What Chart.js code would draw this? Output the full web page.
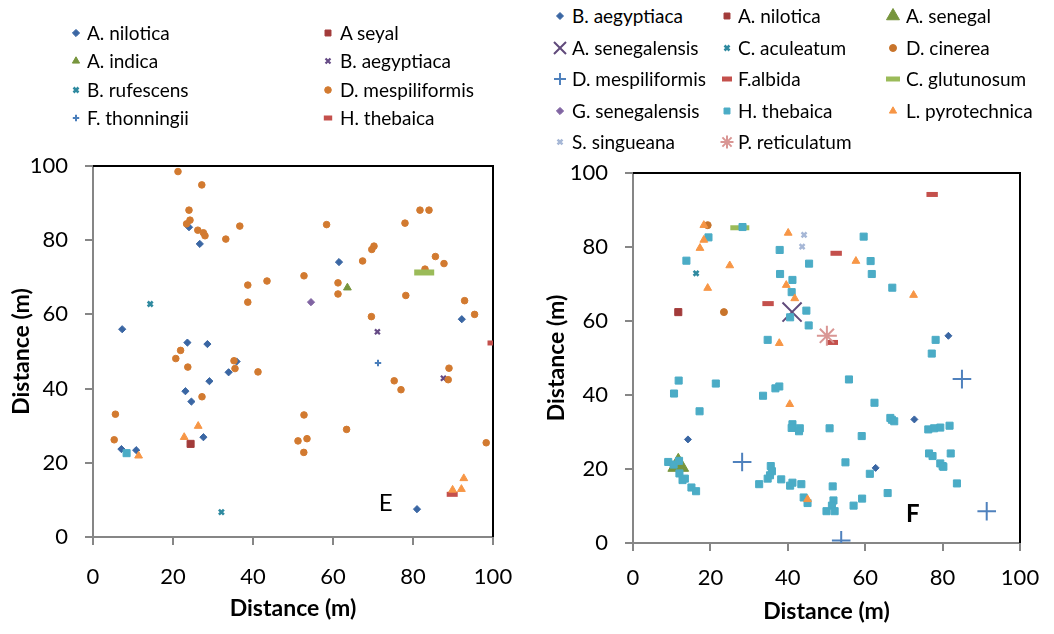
<!DOCTYPE html>
<html>
<head>
<meta charset="utf-8">
<script src="https://cdn.jsdelivr.net/npm/chart.js@4.4.0/dist/chart.umd.min.js"></script>
<style>
  body { margin: 0; background: #fff; width: 1054px; height: 634px; overflow: hidden; position: relative; font-family: Lato, "Open Sans", sans-serif; }
  .wrap { position: absolute; top: 140px; height: 494px; }
  .lg-item { position: absolute; white-space: nowrap; font-size: 19px; color: #000; line-height: 22px; }
  .lg-mark { position: absolute; }
</style>
</head>
<body>
<div class="wrap" style="left:0;width:520px"><canvas id="chartE" width="520" height="494"></canvas></div>
<div class="wrap" style="left:520px;width:534px"><canvas id="chartF" width="534" height="494"></canvas></div>
<div id="legendE"></div>
<div id="legendF"></div>
<script>
// ---- panel E data [x, y] in metres ----
var axisTicks = [0, 20, 40, 60, 80, 100];

var eNilotica = [[24,83.5],[26.7,79],[7.3,56],[23.6,52.4],[28.6,52],[61.5,74.1],[92.2,58.7],[35.9,47.3],[33.9,44.4],[29.1,42],[23.1,39.3],[24.6,36.5],[27.6,26.9],[7.1,23.7],[10.8,23.4],[81,7.5]];
var eSeyal = [[24.4,25.1]];
var eIndica = [[63.6,67.2]];
var eAegyptiaca = [[71.1,55.3],[87.6,42.8]];
var eRufescens = [[14.3,62.8],[32.1,6.7]];
var eMespiliformis = [[21.25,98.5],[27.2,94.9],[24,88.1],[24.25,85.4],[23.4,84.4],[26.2,82.7],[27.6,82],[28,81.2],[36.7,83.8],[33.2,80.3],[43.5,69],[38.7,67.9],[38.7,63.3],
  [58.4,84.2],[78,84.6],[81.75,88.1],[84,88.1],[70.25,78.4],[69.7,77.5],[67.4,74.4],[85.6,75.6],[87.75,73.7],[83,72.2],[52.75,70.4],[61.25,68.5],[61.25,65.5],[78.2,65.1],[69.6,59.4],[92.9,63.7],[95.4,60],
  [21.9,50.3],[20.7,48.1],[23.7,45.8],[35.25,47.5],[35.5,45.4],[41.25,44.5],[27.25,37.8],[5.6,33.1],[5.3,26.2],
  [89,45.5],[88.8,42.4],[75.3,42.1],[77,39.7],[52.75,32.9],[63.4,29],[51.25,25.9],[53.5,26.5],[52.7,22.8],[98.3,25.4]];
var eThonningii = [[71.25,46.9]];
var eThebaica = [[100,52.3],[89.8,11.5]];
// plotted in panel E but missing from its legend
var ePyrotechnica = [[26.3,29.9],[22.8,26.9],[11.4,21.9],[92.7,15.8],[92.1,12.9],[89.9,12.7]];
var eSquare = [[8.4,22.6]];
var eGlutunosum = [[82.8,71.3]];
var eSenegalensis = [[54.5,63.3]];

// ---- panel F data ----
var fAegyptiaca = [[81.5,56],[72.7,33.4],[62.7,20.3],[14.2,28]];
var fNilotica = [[11.7,62.4]];
var fSenegal = [[11.7,21]];
var fSenegalensisA = [[41.1,62.4]];
var fAculeatum = [[16.3,72.9]];
var fCinerea = [[19.3,85.9],[23.5,62.4]];
var fMespiliformis = [[28.2,21.9],[85,44.3],[91.4,8.6],[53.8,0.7]];
var fAlbida = [[77.3,94.2],[52.5,78.3],[34.9,64.7],[51.5,54.2]];
var fGlutunosum = [[27.6,85.2]];
var fSenegalensisG = [];
var fThebaica = [[13.8,76.3],[19.5,82.6],[28.3,85.4],[37.9,79.2],[38,72.7],[41.2,71.1],[41,67.8],[44.8,62.8],[40.6,61],[45.4,58.8],[45.5,75.5],
  [59.6,82.8],[61.4,76.2],[61.7,72.7],[67,69],[78.2,54.9],[77.2,51.2],[34.8,54.9],[11.8,43.9],[10.6,40.4],[21.4,43.1],[17.2,35.6],
  [33.6,39.8],[36.8,41.8],[37.8,42.3],[55.8,44.2],[62.4,37.9],[41.2,32.1],[41,31.1],[43.1,31],[42.9,30.2],[50.8,31],[59.1,28.9],
  [66.5,33.8],[66.9,33.3],[67.5,32.9],[76.3,30.7],[77.8,31],[79.4,31.2],[81.8,31.7],[76.5,24.2],[77.4,23.5],[79.4,21.5],[80,20.8],
  [80.2,20.6],[82.1,24.2],[83.7,16.1],[9.1,21.9],[10.5,21.2],[11.9,22.2],[12,18.8],[12.8,17],[13.4,17.4],[15.1,15],[16.3,14],
  [32.6,15.9],[34.8,17.4],[35.6,20.8],[35.9,19.4],[35.4,18.3],[38.3,17.2],[40.6,15.5],[41.2,16.3],[43.5,15.9],[44.1,12.3],[45.1,10.8],
  [51.6,15.3],[51.8,11.5],[51.4,10.1],[50,8.6],[52.1,8.6],[54.9,21.8],[57,10.1],[59.2,12],[61.2,18.7],[65.8,13.5]];
var fPyrotechnica = [[18.3,85.9],[18.3,81.9],[17.3,79.7],[25,75],[19.3,68.9],[40.1,83.8],[39.6,69.7],[41.8,66.1],[57.6,76.2],[72.5,67],[37.8,54],[40.5,37.5],[45.1,11.8]];
var fSingueana = [[44.2,83.3],[43.7,80.1]];
var fReticulatum = [[50.1,56]];

// series: name, data, marker style, legend?
var seriesE = [
  {name: 'A. nilotica', data: eNilotica, shape: 'rectRot', r: 3.6, bw: 1, color: '#3a66a3'},
  {name: 'A seyal', data: eSeyal, shape: 'rect', r: 5, bw: 1, color: '#a23b3a'},
  {name: 'A. indica', data: eIndica, shape: 'triangle', r: 4.5, bw: 1, color: '#77953d'},
  {name: 'B. aegyptiaca', data: eAegyptiaca, shape: 'crossRot', r: 3.5, bw: 2.2, color: '#654a85'},
  {name: 'B. rufescens', data: eRufescens, shape: 'crossRot', r: 3.5, bw: 2.6, color: '#2f8aa0'},
  {name: 'D. mespiliformis', data: eMespiliformis, shape: 'circle', r: 3.3, bw: 1, color: '#d27a30'},
  {name: 'F. thonningii', data: eThonningii, shape: 'cross', r: 3.2, bw: 2, color: '#4a7ebb'},
  {name: 'H. thebaica', data: eThebaica, shape: 'line', r: 5.5, bw: 5, color: '#c4504c'},
  {name: 'L. pyrotechnica', data: ePyrotechnica, shape: 'triangle', r: 4.5, bw: 1, color: '#f79646', noLegend: true},
  {name: 'H. thebaica (sq)', data: eSquare, shape: 'rect', r: 5, bw: 1, color: '#4bacc6', noLegend: true},
  {name: 'C. glutunosum', data: eGlutunosum, shape: 'line', r: 10, bw: 6, color: '#9bbb59', noLegend: true},
  {name: 'G. senegalensis', data: eSenegalensis, shape: 'rectRot', r: 3.6, bw: 1, color: '#8064a2', noLegend: true}
];

var seriesF = [
  {name: 'B. aegyptiaca', data: fAegyptiaca, shape: 'rectRot', r: 3.5, bw: 1, color: '#3a66a3'},
  {name: 'A. nilotica', data: fNilotica, shape: 'rect', r: 5, bw: 1, color: '#a23b3a'},
  {name: 'A. senegal', data: fSenegal, shape: 'triangle', r: 12, bw: 1, color: '#77953d', lr: 7.5},
  {name: 'A. senegalensis', data: fSenegalensisA, shape: 'crossRot', r: 13.5, bw: 2, color: '#604a7b', lr: 8.5},
  {name: 'C. aculeatum', data: fAculeatum, shape: 'crossRot', r: 3.5, bw: 2.6, color: '#2f8aa0'},
  {name: 'D. cinerea', data: fCinerea, shape: 'circle', r: 3.5, bw: 1, color: '#c8742b'},
  {name: 'D. mespiliformis', data: fMespiliformis, shape: 'cross', r: 9.3, bw: 2, color: '#4f81bd', lr: 6},
  {name: 'F.albida', data: fAlbida, shape: 'line', r: 5.7, bw: 5, color: '#c4504c', lr: 5},
  {name: 'C. glutunosum', data: fGlutunosum, shape: 'line', r: 9.5, bw: 5, color: '#9bbb59', lr: 7},
  {name: 'G. senegalensis', data: fSenegalensisG, shape: 'rectRot', r: 3.6, bw: 1, color: '#8064a2'},
  {name: 'H. thebaica', data: fThebaica, shape: 'rect', r: 5, bw: 1, color: '#4bacc6'},
  {name: 'L. pyrotechnica', data: fPyrotechnica, shape: 'triangle', r: 4.5, bw: 1, color: '#f79646'},
  {name: 'S. singueana', data: fSingueana, shape: 'crossRot', r: 3.5, bw: 2.5, color: '#a6b7d6'},
  {name: 'P. reticulatum', data: fReticulatum, shape: 'star', r: 10, bw: 2, color: '#d99694', lr: 6.5}
];

var tickFont = {family: 'Lato', size: 22};
var titleFont = {family: 'Lato', size: 23, weight: 'bold'};

// Frame (black top/right) + panel letter
var frame = {
  id: 'frame',
  beforeDatasetsDraw: function (chart) {
    var a = chart.chartArea, ctx = chart.ctx;
    ctx.save();
    ctx.strokeStyle = '#000';
    ctx.lineWidth = 2;
    ctx.beginPath();
    ctx.moveTo(a.left, a.top);
    ctx.lineTo(a.right, a.top);
    ctx.lineTo(a.right, a.bottom);
    ctx.stroke();
    ctx.restore();
  },
  afterDraw: function (chart, args, opts) {
    var ctx = chart.ctx;
    ctx.save();
    ctx.font = opts.font;
    ctx.fillStyle = '#000';
    ctx.textAlign = 'center';
    ctx.textBaseline = 'middle';
    ctx.fillText(opts.letter, chart.scales.x.getPixelForValue(opts.at[0]), chart.scales.y.getPixelForValue(opts.at[1]));
    ctx.restore();
  }
};

function toDatasets(series) {
  return series.map(function (s, i) {
    return {
      label: s.name,
      data: s.data.map(function (p) { return {x: p[0], y: p[1]}; }),
      pointStyle: s.shape,
      pointRadius: s.r,
      pointHoverRadius: s.r,
      pointBorderWidth: s.bw,
      backgroundColor: s.color,
      borderColor: s.color,
      order: -i
    };
  });
}

function axes(yWidth, xHeight, p) {
  var grid = {drawOnChartArea: false, drawTicks: true, tickLength: 8, color: '#868686', lineWidth: 2};
  return {
    x: {
      type: 'linear', min: 0, max: 100,
      afterBuildTicks: function (s) { s.ticks = axisTicks.map(function (v) { return {value: v}; }); },
      afterFit: function (s) { s.height = xHeight; s.paddingLeft = 0; s.paddingRight = 0; },
      grid: grid,
      border: {color: '#868686', width: 2},
      ticks: {font: tickFont, color: '#000', padding: p.xPad, maxRotation: 0},
      title: {display: true, text: 'Distance (m)', font: titleFont, color: '#000', padding: {top: 0, bottom: p.xTitle}}
    },
    y: {
      type: 'linear', min: 0, max: 100,
      afterBuildTicks: function (s) { s.ticks = axisTicks.map(function (v) { return {value: v}; }); },
      afterFit: function (s) { s.width = yWidth; s.paddingTop = 0; s.paddingBottom = 0; },
      grid: grid,
      border: {color: '#868686', width: 2},
      ticks: {font: tickFont, color: '#000', padding: p.yPad},
      title: {display: true, text: 'Distance (m)', font: titleFont, color: '#000', padding: {top: p.yTitle, bottom: 0}}
    }
  };
}

var chartE = new Chart(document.getElementById('chartE'), {
  type: 'scatter',
  data: {datasets: toDatasets(seriesE)},
  options: {
    responsive: false,
    animation: false,
    layout: {padding: {left: 0, top: 26, right: 27, bottom: 0}},
    scales: axes(93, 97, {xPad: 19, xTitle: 12, yPad: 17, yTitle: 8}),
    plugins: {
      legend: {display: false},
      tooltip: {enabled: false},
      frame: {letter: 'E', at: [73.2, 9.1], font: '24px Lato'}
    }
  },
  plugins: [frame]
});

var chartF = new Chart(document.getElementById('chartF'), {
  type: 'scatter',
  data: {datasets: toDatasets(seriesF)},
  options: {
    responsive: false,
    animation: false,
    layout: {padding: {left: 0, top: 33, right: 34, bottom: 0}},
    scales: axes(113, 91, {xPad: 14, xTitle: 9, yPad: 17, yTitle: 23}),
    plugins: {
      legend: {display: false},
      tooltip: {enabled: false},
      frame: {letter: 'F', at: [72.3, 7.9], font: 'bold 24px Lato'}
    }
  },
  plugins: [frame]
});

// HTML legends laid out in Excel-like columns
function buildLegend(el, series, cols, markX, textX, top0, rowH) {
  var k = 0;
  series.forEach(function (s) {
    if (s.noLegend) return;
    var col = k % cols, row = Math.floor(k / cols);
    var cy = top0 + row * rowH;
    var c = document.createElement('canvas');
    c.width = 24; c.height = 24;
    c.className = 'lg-mark';
    c.style.left = (markX[col] - 12) + 'px';
    c.style.top = (cy - 12) + 'px';
    var ctx = c.getContext('2d');
    ctx.fillStyle = s.color;
    ctx.strokeStyle = s.color;
    ctx.lineWidth = s.bw;
    Chart.helpers.drawPoint(ctx, {pointStyle: s.shape, radius: s.lr || Math.min(s.r, 4.2), borderWidth: s.bw, rotation: 0}, 12, 12);
    el.appendChild(c);
    var t = document.createElement('div');
    t.className = 'lg-item';
    t.textContent = s.name;
    t.style.left = textX[col] + 'px';
    t.style.top = (cy - 11) + 'px';
    el.appendChild(t);
    k++;
  });
}

buildLegend(document.getElementById('legendE'), seriesE, 2, [76, 328], [87, 340], 33, 28.3);
buildLegend(document.getElementById('legendF'), seriesF, 3, [560, 727, 893], [572, 738, 906], 16, 31.6);
</script>
</body>
</html>
